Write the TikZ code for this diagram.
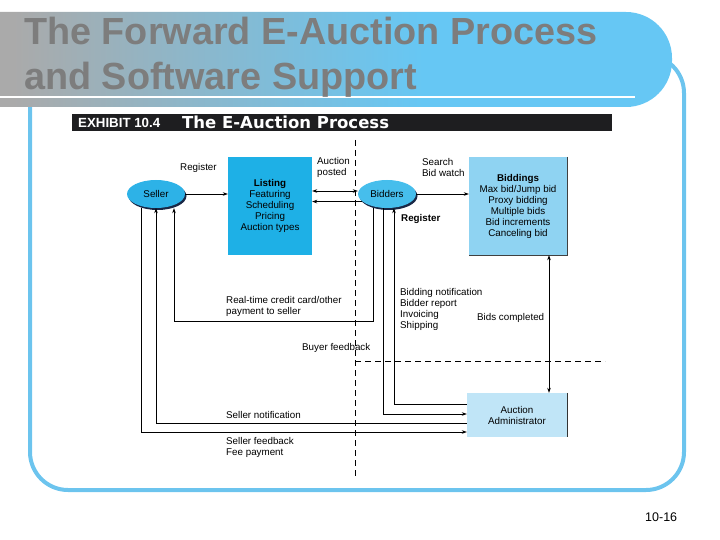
\documentclass[tikz,border=0pt]{standalone}
\usepackage{fontspec}
\setmainfont{Liberation Sans}
\newfontfamily\headfont{DejaVu Sans}
\usepackage{tikz}
\usetikzlibrary{calc, positioning, arrows.meta, shapes.geometric, shadows}
\definecolor{frameblue}{RGB}{108,196,238}
\definecolor{barblue}{RGB}{102,199,244}
\definecolor{bargray}{RGB}{170,170,170}
\definecolor{titlegray}{RGB}{125,125,125}
\definecolor{sellerblue}{RGB}{45,178,231}
\definecolor{bidderblue}{RGB}{70,190,236}
\definecolor{listblue}{RGB}{30,176,230}
\definecolor{bidblue}{RGB}{143,211,242}
\definecolor{adminblue}{RGB}{192,229,247}
\definecolor{shadownavy}{RGB}{25,40,70}
\definecolor{exhibitblack}{RGB}{30,30,32}
\pgfdeclarehorizontalshading{titlebar}{100bp}{color(0bp)=(bargray); color(30bp)=(bargray); color(58bp)=(barblue); color(100bp)=(barblue)}

\begin{document}
\begin{tikzpicture}[x=1pt, y=-1pt,
  >={Stealth[length=5pt, width=3.6pt]},
  txt/.style={font=\fontsize{9.8}{11}\selectfont, inner sep=0pt, align=left, anchor=base west},
  oval/.style={ellipse, minimum width=58pt, minimum height=28pt, inner sep=0pt,
    font=\fontsize{9.8}{11}\selectfont,
    drop shadow={shadow xshift=1.5pt, shadow yshift=-2pt, fill=shadownavy, opacity=1}},
  box/.style={rectangle, inner sep=0pt, align=center, font=\fontsize{9.8}{11}\selectfont},
  link/.style={line width=0.7pt},
  arr/.style={->, line width=0.7pt},
  divider/.style={dash pattern=on 6pt off 4pt, line width=0.7pt}]
  \useasboundingbox (0,0) rectangle (720,540);

  % slide frame and title bar
  \draw[frameblue, line width=4pt, rounded corners=38pt] (30,55) rectangle (684,490);
  \shade[shading=titlebar, rounded corners=46pt] (-60,12) rectangle (672,107);
  \draw[white, line width=2pt] (0,97) -- (635,97);
  \node[anchor=base west, inner sep=0pt, font=\fontsize{37.8}{44}\selectfont\bfseries, text=titlegray] (title1) at (24,45) {The Forward E-Auction Process};
  \node[anchor=base west, inner sep=0pt, font=\fontsize{37.8}{44}\selectfont\bfseries, text=titlegray] (title2) at (24,90) {and Software Support};

  % exhibit header
  \fill[exhibitblack] (72,114) rectangle (612,131);
  \node[anchor=base west, inner sep=0pt, text=white, font=\fontsize{13.3}{14}\selectfont\bfseries] (exhibit) at (78,128) {EXHIBIT 10.4};
  \node[anchor=base west, inner sep=0pt, text=white, font=\headfont\bfseries\fontsize{16.5}{16.5}\selectfont] (exhtitle) at (182,128.5) {The E-Auction Process};

  % dashed dividers
  \draw[divider] (355,140) -- (355,478);
  \draw[divider] (355,361) -- (605,361);

  % actors and modules
  \node[oval, fill=sellerblue] (seller) at (156,194) {Seller};
  \node[box, fill=listblue, minimum width=84pt, minimum height=98pt] (listing) at (270,206)
    {\textbf{Listing}\\Featuring\\Scheduling\\Pricing\\Auction types};
  \node[oval, fill=bidderblue] (bidders) at (387,194) {Bidders};
  \node[box, fill=bidblue, minimum width=98pt, minimum height=98pt] (biddings) at (518,206)
    {\textbf{Biddings}\\Max bid/Jump bid\\Proxy bidding\\Multiple bids\\Bid increments\\Canceling bid};
  \node[box, fill=adminblue, minimum width=100pt, minimum height=44pt] (admin) at (517,415)
    {Auction\\Administrator};
  \draw[line width=0.6pt, black!75] (biddings.north east) -- (biddings.south east) -- (biddings.south west);
  \draw[line width=0.6pt, black!80] (admin.north east) -- (admin.south east);

  % flows along the top
  \draw[arr] (seller.east) -- (seller.east -| listing.west);
  \draw[<->, link] ([yshift=15pt]listing.east) -- ([yshift=15pt]listing.east -| bidders.west);
  \draw[arr] (bidders.197) -- (bidders.197 -| listing.east);
  \draw[arr] (bidders.east) -- (bidders.east -| biddings.west);
  \draw[<->, link] ([xshift=31pt]biddings.south) -- ([xshift=31pt]biddings.south |- admin.north);

  % flows back to seller and bidders
  \draw[arr] ([xshift=-14pt]bidders.south) -- ++(0,113) -| ([xshift=18pt]seller.south);
  \draw[arr] ([yshift=-8pt]admin.west) -| (seller.south);
  \draw[arr] ([xshift=-15pt]seller.south) |- ([yshift=-17pt]admin.west);
  \draw[arr] ([xshift=-4pt]bidders.south) |- ([yshift=1pt]admin.west);
  \draw[arr] ([yshift=11pt]admin.west) -| ([xshift=7pt]bidders.south);

  % labels (base = last line)
  \node[txt] (regseller) at (180,170.5) {Register};
  \node[txt] (posted) at (317,175.5) {Auction\\posted};
  \node[txt] (search) at (422,176.5) {Search\\Bid watch};
  \node[txt, font=\fontsize{9.8}{11}\selectfont\bfseries] (regbidder) at (401,221.5) {Register};
  \node[txt] (payment) at (226,314.5) {Real-time credit card/other\\payment to seller};
  \node[txt] (notices) at (400,328.5) {Bidding notification\\Bidder report\\Invoicing\\Shipping};
  \node[txt] (completed) at (477,320.5) {Bids completed};
  \node[txt] (buyerfb) at (302,350) {Buyer feedback};
  \node[txt] (sellernote) at (226,418.5) {Seller notification};
  \node[txt] (sellerfb) at (226,455.5) {Seller feedback\\Fee payment};
  \node[anchor=base west, inner sep=0pt, font=\fontsize{12.5}{14}\selectfont] (pagenum) at (645,521.5) {10-16};
\end{tikzpicture}
\end{document}
